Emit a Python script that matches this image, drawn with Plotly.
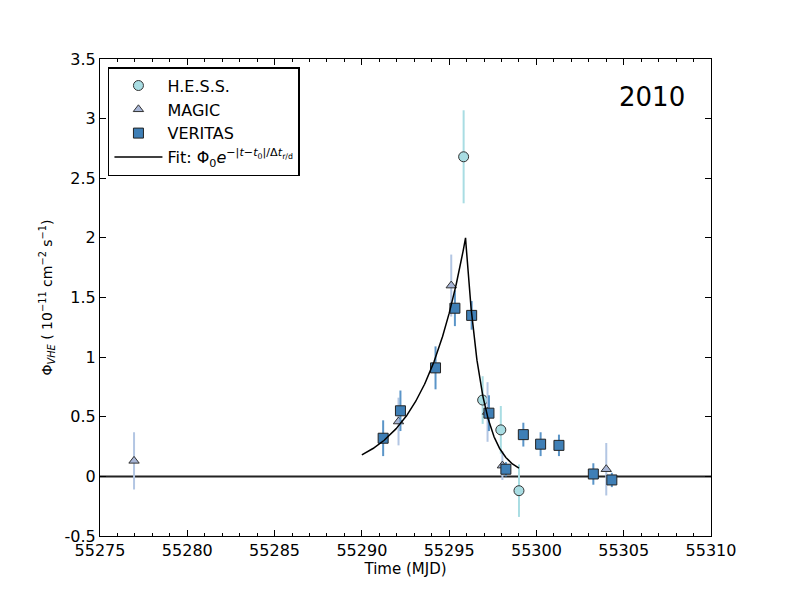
import plotly.graph_objects as go
import numpy as np

# H.E.S.S. data
hess_t = [55295.83, 55296.92, 55297.96, 55299.0]
hess_f = [2.68, 0.64, 0.39, -0.12]
hess_e = [0.39, 0.20, 0.20, 0.22]

# MAGIC data
magic_t = [55276.95, 55292.1, 55295.12, 55297.2, 55298.05, 55304.0]
magic_f = [0.13, 0.46, 1.60, 0.54, 0.09, 0.06]
magic_e = [0.24, 0.20, 0.26, 0.25, 0.12, 0.22]

# VERITAS data
ver_t = [55291.22, 55292.21, 55294.22, 55295.33, 55296.29, 55297.28, 55298.25,
         55299.25, 55300.24, 55301.29, 55303.26, 55304.32]
ver_f = [0.32, 0.55, 0.91, 1.41, 1.35, 0.53, 0.06, 0.35, 0.27, 0.26, 0.02, -0.03]
ver_e = [0.15, 0.17, 0.18, 0.15, 0.12, 0.15, 0.06, 0.10, 0.10, 0.09, 0.09, 0.06]

# Fit parameters: Phi0 * exp(-|t - t0| / dt_r/d)
phi0 = 2.0
t0 = 55295.94
dt_rise = 2.47
dt_decay = 0.91
fit_start, fit_end = 55290.0, 55299.0

fit_t = np.linspace(fit_start, fit_end, 600)
fit_t = np.sort(np.append(fit_t, t0))
fit_f = np.where(fit_t < t0, phi0 * np.exp(-(t0 - fit_t) / dt_rise),
                 phi0 * np.exp(-(fit_t - t0) / dt_decay))

x_ticks = [55275, 55280, 55285, 55290, 55295, 55300, 55305, 55310]
y_ticks = [-0.5, 0, 0.5, 1, 1.5, 2, 2.5, 3, 3.5]
y_ticktext = ["-0.5", "0", "0.5", "1", "1.5", "2", "2.5", "3", "3.5"]

FONT = "DejaVu Sans"
fig = go.Figure()

fig.add_trace(go.Scatter(
    x=[55270, 55315], y=[0, 0], mode="lines",
    line=dict(color="#222222", width=2), showlegend=False, hoverinfo="skip"))

fig.add_trace(go.Scatter(
    x=hess_t, y=hess_f, mode="markers", name="H.E.S.S.",
    marker=dict(symbol="circle", size=10, color="#a9dde3",
                line=dict(color="#333333", width=1)),
    error_y=dict(type="data", array=hess_e, color="#a9dde3", thickness=2, width=0)))

fig.add_trace(go.Scatter(
    x=magic_t, y=magic_f, mode="markers", name="MAGIC",
    marker=dict(symbol="triangle-up", size=9, color="#a7b5d6",
                line=dict(color="#333333", width=1)),
    error_y=dict(type="data", array=magic_e, color="#b3c6e3", thickness=2, width=0)))

fig.add_trace(go.Scatter(
    x=ver_t, y=ver_f, mode="markers", name="VERITAS",
    marker=dict(symbol="square", size=10, color="#3f7fb6",
                line=dict(color="#222222", width=1)),
    error_y=dict(type="data", array=ver_e, color="#5b95c8", thickness=2, width=0)))

fig.add_trace(go.Scatter(
    x=fit_t, y=fit_f, mode="lines",
    name="Fit: Φ<sub>0</sub><i>e</i><sup>−|<i>t</i>−<i>t</i><sub>0</sub>|/Δ<i>t</i><sub>r/d</sub></sup>",
    line=dict(color="black", width=1.5)))

fig.update_layout(
    width=781, height=588,
    margin=dict(l=92, r=78, t=51, b=60),
    paper_bgcolor="white", plot_bgcolor="white",
    font=dict(family=FONT, size=15, color="black"),
    showlegend=True,
    legend=dict(x=0.013, y=0.983, xanchor="left", yanchor="top",
                bordercolor="black", borderwidth=1.5, bgcolor="white",
                font=dict(size=16), tracegroupgap=0, itemwidth=48),
    annotations=[dict(text="2010", x=0.903, y=0.92, xref="paper", yref="paper",
                      xanchor="center", yanchor="middle",
                      showarrow=False, font=dict(size=26, color="black"))],
)

fig.update_xaxes(
    range=[55275, 55310], tickvals=x_ticks, ticktext=[str(v) for v in x_ticks],
    ticks="inside", ticklen=6, tickcolor="black", tickfont=dict(size=16),
    minor=dict(dtick=1, ticks="inside", ticklen=3, tickcolor="black"),
    showline=True, linecolor="black", linewidth=1.2, mirror="allticks",
    showgrid=False, zeroline=False,
    title=dict(text="Time (MJD)", font=dict(size=15), standoff=0))

fig.update_yaxes(
    range=[-0.5, 3.5], tickvals=y_ticks, ticktext=y_ticktext,
    ticks="inside", ticklen=6, tickcolor="black", tickfont=dict(size=16),
    showline=True, linecolor="black", linewidth=1.2, mirror="allticks",
    showgrid=False, zeroline=False,
    title=dict(text="Φ<sub><i>VHE</i></sub> ( 10<sup>−11</sup> cm<sup>−2</sup> s<sup>−1</sup>)",
               font=dict(size=14), standoff=8))

fig.write_html("out.html")
